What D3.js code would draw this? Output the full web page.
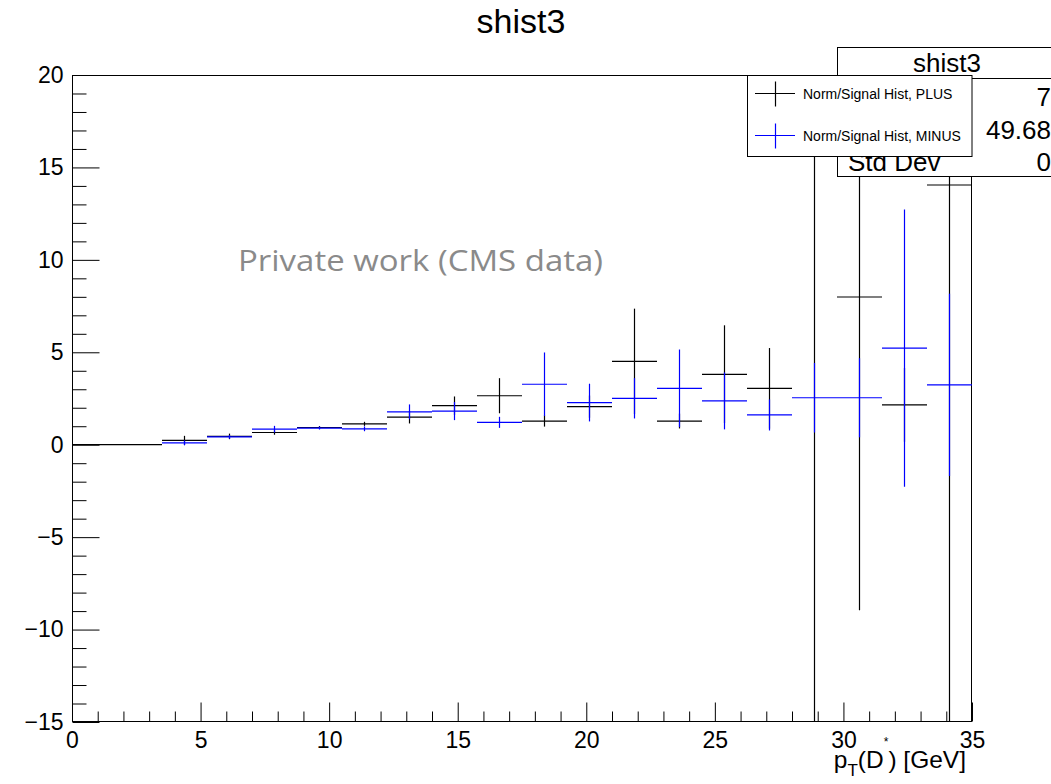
<!DOCTYPE html>
<html>
<head>
<meta charset="utf-8">
<script src="https://cdn.jsdelivr.net/npm/d3@7"></script>
<style>
  html, body { margin: 0; padding: 0; background: #fff; }
  svg { display: block; font-family: "Liberation Sans", Arial, Helvetica, sans-serif; }
</style>
</head>
<body>
<svg id="chart" width="1051" height="784"></svg>
<script>
// ---- data ----
const binEdges = [0, 1.75, 3.5, 5.25, 7, 8.75, 10.5, 12.25, 14, 15.75, 17.5,
                  19.25, 21, 22.75, 24.5, 26.25, 28, 29.75, 31.5, 33.25, 35];
const plusValues  = [0, 0, 0.23, 0.45, 0.66, 0.93, 1.13, 1.49, 2.11, 2.65, 1.28,
                     2.06, 4.51, 1.28, 3.81, 3.05, 22.0, 7.99, 2.16, 14.05];
const plusErrors  = [0, 0, 0.25, 0.15, 0.12, 0.08, 0.11, 0.34, 0.50, 0.95, 0.30,
                     0.60, 2.85, 0.40, 2.65, 2.18, 40.0, 16.95, 2.00, 32.0];
const minusValues = [null, null, 0.10, 0.42, 0.84, 0.90, 0.86, 1.78, 1.82, 1.21, 3.27,
                     2.28, 2.51, 3.05, 2.37, 1.61, 2.54, 2.54, 5.23, 3.24];
const minusErrors = [0, 0, 0.13, 0.10, 0.18, 0.08, 0.13, 0.40, 0.49, 0.30, 1.72,
                     1.02, 1.09, 2.10, 1.54, 0.84, 1.88, 2.14, 7.50, 4.93];
const seriesNames = ["Norm/Signal Hist, PLUS", "Norm/Signal Hist, MINUS"];
const seriesColors = ["#000000", "#0000ff"];
const xTickValues = [0, 5, 10, 15, 20, 25, 30, 35];
const xTickLabels = ["0", "5", "10", "15", "20", "25", "30", "35"];
const yTickValues = [-15, -10, -5, 0, 5, 10, 15, 20];
const yTickLabels = ["\u221215", "\u221210", "\u22125", "0", "5", "10", "15", "20"];
const statsLabels = ["Entries", "Mean", "Std Dev"];
const statsValues = ["7", "49.68", "0"];
const chartTitle = "shist3";

// ---- layout ----
const svg = d3.select("#chart");
const X0 = 72, X1 = 972, Y0 = 75, Y1 = 722;
const x = d3.scaleLinear().domain([0, 35]).range([X0, X1]);
const y = d3.scaleLinear().domain([-15, 20]).range([Y1, Y0]);

svg.append("rect").attr("width", 1051).attr("height", 784).attr("fill", "#fff");

// title
svg.append("text").attr("x", 521).attr("y", 33).attr("text-anchor", "middle")
  .attr("font-size", 34).attr("fill", "#000").text(chartTitle);

// clip
svg.append("clipPath").attr("id", "frameClip")
  .append("rect").attr("x", X0).attr("y", Y0).attr("width", X1 - X0).attr("height", Y1 - Y0);

// frame
svg.append("rect").attr("x", X0 + 0.5).attr("y", Y0 + 0.5)
  .attr("width", X1 - X0 - 1).attr("height", Y1 - Y0 - 1)
  .attr("fill", "none").attr("stroke", "#000").attr("stroke-width", 1);

// axes
const labelMap = new Map(yTickValues.map((v, i) => [v, yTickLabels[i]]));
const xLabelMap = new Map(xTickValues.map((v, i) => [v, xTickLabels[i]]));
const yMinor = d3.range(-15, 20.001, 1).filter(v => !yTickValues.includes(v));
const xMinor = d3.range(0, 35.001, 1).filter(v => !xTickValues.includes(v));

const yAxis = svg.append("g").attr("transform", `translate(${X0 + 0.5},0)`)
  .call(d3.axisLeft(y).tickValues(yTickValues).tickSizeInner(-27).tickSizeOuter(0)
        .tickPadding(9).tickFormat(d => labelMap.get(d)));
const yAxisMinor = svg.append("g").attr("transform", `translate(${X0 + 0.5},0)`)
  .call(d3.axisLeft(y).tickValues(yMinor).tickSizeInner(-14).tickSizeOuter(0).tickFormat(""));
const xAxis = svg.append("g").attr("transform", `translate(0,${Y1 - 0.5})`)
  .call(d3.axisBottom(x).tickValues(xTickValues).tickSizeInner(-19).tickSizeOuter(0)
        .tickPadding(10).tickFormat(d => xLabelMap.get(d)));
const xAxisMinor = svg.append("g").attr("transform", `translate(0,${Y1 - 0.5})`)
  .call(d3.axisBottom(x).tickValues(xMinor).tickSizeInner(-10).tickSizeOuter(0).tickFormat(""));
[yAxis, yAxisMinor, xAxis, xAxisMinor].forEach(g => {
  g.select(".domain").remove();
  g.selectAll("line").attr("stroke", "#000").attr("stroke-width", 1);
  g.selectAll("text").attr("font-size", 23).attr("fill", "#000")
    .attr("font-family", "Liberation Sans, Arial, sans-serif");
});

// x axis title: p_T(D^*) [GeV]
const xt = svg.append("text").attr("x", 966).attr("y", 768).attr("text-anchor", "end")
  .attr("font-size", 24.5).attr("fill", "#000");
xt.append("tspan").text("p");
xt.append("tspan").attr("font-size", 17).attr("dy", 8).text("T");
xt.append("tspan").attr("dy", -8).text("(D");
xt.append("tspan").attr("font-size", 12).attr("dy", -22).text("*");
xt.append("tspan").attr("dy", 22).text(") [GeV]");

// data marks
const plot = svg.append("g").attr("clip-path", "url(#frameClip)");
function drawSeries(values, errors, color) {
  const bins = values.map((v, i) => ({ v, e: errors[i], lo: binEdges[i], hi: binEdges[i + 1] }))
    .filter(d => d.v !== null);
  const g = plot.append("g").attr("stroke", color).attr("stroke-width", 1.2).attr("fill", "none");
  g.selectAll("line.h").data(bins).join("line").attr("class", "h")
    .attr("x1", d => x(d.lo)).attr("x2", d => x(d.hi))
    .attr("y1", d => y(d.v)).attr("y2", d => y(d.v));
  g.selectAll("line.v").data(bins.filter(d => d.e > 0)).join("line").attr("class", "v")
    .attr("x1", d => x((d.lo + d.hi) / 2)).attr("x2", d => x((d.lo + d.hi) / 2))
    .attr("y1", d => y(d.v - d.e)).attr("y2", d => y(d.v + d.e));
}
drawSeries(plusValues, plusErrors, seriesColors[0]);
drawSeries(minusValues, minusErrors, seriesColors[1]);

// watermark text
svg.append("text").attr("x", 238).attr("y", 271)
  .attr("font-family", "Open Sans, Lato, sans-serif").attr("font-size", 30)
  .attr("textLength", 365).attr("lengthAdjust", "spacingAndGlyphs")
  .attr("fill", "#8a8a8a").text("Private work (CMS data)");

// stats box
const sb = svg.append("g");
sb.append("rect").attr("x", 837.5).attr("y", 47.5).attr("width", 240).attr("height", 129)
  .attr("fill", "#fff").attr("stroke", "#000").attr("stroke-width", 1);
sb.append("line").attr("x1", 837).attr("x2", 1080).attr("y1", 78.5).attr("y2", 78.5)
  .attr("stroke", "#000").attr("stroke-width", 1);
sb.append("text").attr("x", 947).attr("y", 72).attr("text-anchor", "middle")
  .attr("font-size", 26).text(chartTitle);
statsLabels.forEach((lab, i) => {
  const yy = 106 + i * 32.5;
  sb.append("text").attr("x", 848).attr("y", yy).attr("font-size", 26).text(lab);
  sb.append("text").attr("x", 1051).attr("y", yy).attr("text-anchor", "end")
    .attr("font-size", 26).text(statsValues[i]);
});

// legend
const lg = svg.append("g");
lg.append("rect").attr("x", 747.5).attr("y", 75.5).attr("width", 224.5).attr("height", 81)
  .attr("fill", "#fff").attr("stroke", "#000").attr("stroke-width", 1);
seriesNames.forEach((name, i) => {
  const cy = 93.5 + i * 42;
  lg.append("line").attr("x1", 755).attr("x2", 795).attr("y1", cy).attr("y2", cy)
    .attr("stroke", seriesColors[i]).attr("stroke-width", 1.2);
  lg.append("line").attr("x1", 775.5).attr("x2", 775.5).attr("y1", cy - 12).attr("y2", cy + 13)
    .attr("stroke", seriesColors[i]).attr("stroke-width", 1.2);
  lg.append("text").attr("x", 803).attr("y", cy + 5).attr("font-size", 14)
    .attr("fill", "#000").text(name);
});
</script>
</body>
</html>
